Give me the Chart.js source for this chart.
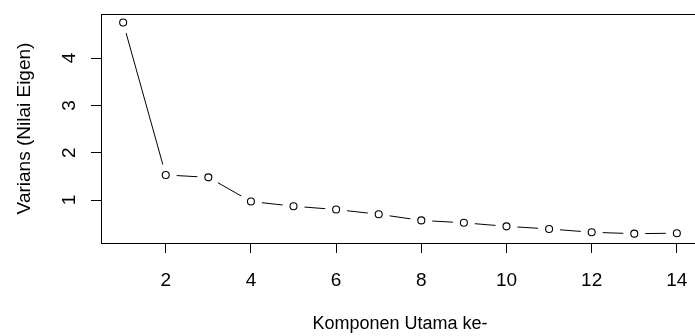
<!DOCTYPE html>
<html>
<head>
<meta charset="utf-8">
<script src="https://cdn.jsdelivr.net/npm/chart.js@4.4.1/dist/chart.umd.min.js"></script>
<style>
  html, body { margin: 0; padding: 0; background: #fff; overflow: hidden; }
  #wrap { width: 695px; height: 336px; overflow: hidden; }
  canvas { display: block; }
</style>
</head>
<body>
<div id="wrap"><canvas id="c" width="710" height="336"></canvas></div>
<script>
// Data
const components = [1, 2, 3, 4, 5, 6, 7, 8, 9, 10, 11, 12, 13, 14];
const eigenvalues = [4.75, 1.53, 1.48, 0.97, 0.87, 0.80, 0.70, 0.57, 0.52, 0.445, 0.39, 0.32, 0.29, 0.30];
const xTickValues = [2, 4, 6, 8, 10, 12, 14];
const yTickValues = [1, 2, 3, 4];
const xTitle = 'Komponen Utama ke-';
const yTitle = 'Varians (Nilai Eigen)';

const points = components.map((c, i) => ({ x: c, y: eigenvalues[i] }));
const FONT = "'Liberation Sans', Arial, sans-serif";

const boxPlugin = {
  id: 'box',
  afterDatasetsDraw(chart) {
    const a = chart.chartArea;
    const ctx = chart.ctx;
    ctx.save();
    ctx.strokeStyle = '#000';
    ctx.lineWidth = 1;
    ctx.strokeRect(Math.round(a.left) + 0.5, Math.round(a.top) + 0.5,
                   Math.round(a.right - a.left), Math.round(a.bottom - a.top));
    ctx.restore();
  }
};

new Chart(document.getElementById('c'), {
  type: 'scatter',
  data: {
    datasets: [
      {
        data: points,
        showLine: false,
        pointRadius: 3.5,
        pointBorderWidth: 1.1,
        pointBorderColor: '#000',
        pointBackgroundColor: '#fff',
        pointHoverRadius: 3.5
      },
      {
        data: points,
        showLine: false,
        pointRadius: 11,
        pointBorderWidth: 0,
        pointBorderColor: '#fff',
        pointBackgroundColor: '#fff',
        pointHoverRadius: 11,
        clip: 0
      },
      {
        data: points,
        showLine: true,
        borderColor: '#000',
        borderWidth: 1,
        pointRadius: 0,
        pointHoverRadius: 0,
        tension: 0,
        fill: false
      }
    ]
  },
  options: {
    responsive: false,
    animation: false,
    events: [],
    layout: { padding: { left: 0, right: 5, top: 14, bottom: 0 } },
    plugins: { legend: { display: false }, tooltip: { enabled: false } },
    scales: {
      x: {
        type: 'linear',
        min: 0.48,
        max: 14.52,
        afterBuildTicks: (s) => { s.ticks = xTickValues.map(v => ({ value: v })); },
        afterFit: (s) => { s.height = 93; s.paddingLeft = 0; s.paddingRight = 0; },
        grid: { display: true, drawOnChartArea: false, drawTicks: true, tickLength: 10, color: '#000', lineWidth: 1 },
        border: { display: true, color: '#000', width: 1 },
        ticks: { color: '#000', font: { family: FONT, size: 19 }, padding: 16, maxRotation: 0, autoSkip: false },
        title: { display: true, text: xTitle, color: '#000', font: { family: FONT, size: 18 }, padding: { top: 0, bottom: 1 } }
      },
      y: {
        type: 'linear',
        min: 0.093,
        max: 4.93,
        afterBuildTicks: (s) => { s.ticks = yTickValues.map(v => ({ value: v })); },
        afterFit: (s) => { s.width = 101; s.paddingTop = 0; s.paddingBottom = 0; },
        grid: { display: true, drawOnChartArea: false, drawTicks: true, tickLength: 10, color: '#000', lineWidth: 1 },
        border: { display: true, color: '#000', width: 1 },
        ticks: { color: '#000', font: { family: FONT, size: 19 }, padding: 16, minRotation: 90, maxRotation: 90, crossAlign: 'center', autoSkip: false },
        title: { display: true, text: yTitle, color: '#000', font: { family: FONT, size: 19 }, padding: { top: 13, bottom: 0 } }
      }
    }
  },
  plugins: [boxPlugin]
});
</script>
</body>
</html>
